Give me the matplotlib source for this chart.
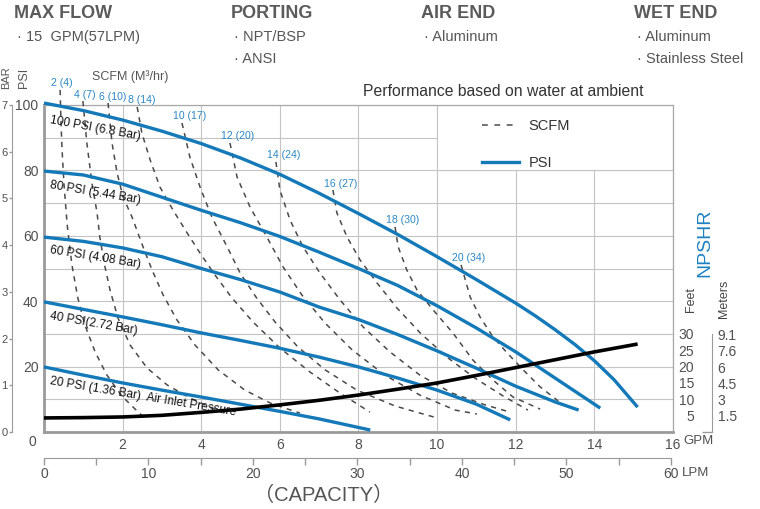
import matplotlib.pyplot as plt
from matplotlib.lines import Line2D
from matplotlib.patches import Rectangle

plt.rcParams['font.family'] = ['Liberation Sans', 'DejaVu Sans']

BLUE = '#1479b8'
LABEL_BLUE = '#2b88c3'
GRAY = '#555555'
AXIS_TXT = '#505050'

# ---- PSI (air inlet pressure) curves: flow in GPM vs head in PSI ----
psi100_gpm = [0, 1, 2, 3, 4, 5, 6, 7, 8, 9, 10, 11, 12, 12.5, 13, 13.5, 14, 14.5, 15.1]
psi100_head = [100.6, 98.3, 95.4, 92.0, 88.2, 83.8, 78.8, 73.0, 66.8, 60.4, 53.6, 46.6,
               39.4, 35.5, 31.3, 26.8, 21.8, 16.0, 7.6]
psi80_gpm = [0, 1, 2, 3, 4, 5, 6, 7, 8, 9, 10, 11, 12, 13, 14.15]
psi80_head = [79.8, 78.6, 75.8, 71.8, 67.8, 64.0, 59.8, 55.0, 50.0, 44.8, 38.6, 31.8,
              24.5, 16.5, 7.3]
psi60_gpm = [0, 1, 2, 3, 4, 5, 6, 7, 8, 9, 10, 11, 12, 13, 13.6]
psi60_head = [59.6, 58.3, 56.3, 53.6, 50.0, 46.6, 42.8, 38.2, 34.4, 29.8, 24.8, 19.5,
              14.0, 9.2, 6.7]
psi40_gpm = [0, 1, 2, 3, 4, 5, 6, 7, 8, 9, 10, 11, 11.86]
psi40_head = [39.8, 37.5, 35.2, 32.8, 30.3, 28.0, 25.6, 22.9, 19.9, 16.5, 12.8, 8.5, 3.7]
psi20_gpm = [0, 1, 2, 3, 4, 5, 6, 7, 8.3]
psi20_head = [19.9, 17.4, 15.0, 12.8, 10.7, 8.5, 6.3, 4.0, 0.6]

psi_labels = ['100 PSI (6.8 Bar)', '80 PSI (5.44 Bar)', '60 PSI (4.08 Bar)',
              '40 PSI(2.72 Bar)', '20 PSI (1.36 Bar)  Air Inlet Pressure']

# ---- air consumption lines, SCFM (m3/hr) ----
scfm = [2, 4, 6, 8, 10, 12, 14, 16, 18, 20]
m3hr = [4, 7, 10, 14, 17, 20, 24, 27, 30, 34]
scfm_gpm = [
    [0.41, 0.43, 0.46, 0.51, 0.59, 0.71, 0.86, 1.04, 1.30, 1.60, 1.98, 2.37, 2.62],
    [0.99, 1.09, 1.22, 1.35, 1.42, 1.53, 1.68, 1.88, 2.19, 2.62, 3.13, 3.71, 4.22, 4.6],
    [1.63, 1.73, 1.86, 2.01, 2.24, 2.52, 2.75, 3.03, 3.38, 3.84, 4.43, 5.11, 5.8, 6.51],
    [2.37, 2.49, 2.70, 2.95, 3.28, 3.64, 3.97, 4.35, 4.78, 5.32, 6.0, 6.77, 7.53, 8.29],
    [3.51, 3.71, 3.97, 4.27, 4.66, 4.99, 5.39, 5.88, 6.46, 7.15, 7.96, 8.93, 10.0],
    [4.73, 4.91, 5.24, 5.67, 6.08, 6.56, 7.15, 7.84, 8.67, 9.56, 10.46, 11.01],
    [5.90, 6.0, 6.26, 6.59, 7.02, 7.53, 8.12, 8.80, 9.56, 10.38, 11.22, 11.85],
    [7.35, 7.45, 7.71, 8.04, 8.47, 8.98, 9.57, 10.25, 10.96, 11.68, 12.31],
    [8.93, 9.01, 9.23, 9.49, 9.90, 10.40, 10.91, 11.42, 11.93, 12.62],
    [10.61, 10.84, 11.09, 11.42, 11.78, 12.19, 12.62, 13.08],
]
scfm_head = [
    [104.6, 95.4, 86.2, 75.5, 63.3, 51.1, 41.0, 32.7, 24.5, 17.4, 11.0, 6.4, 3.7],
    [101.2, 88.4, 76.1, 67.0, 59.6, 51.7, 43.4, 34.9, 26.6, 19.6, 14.4, 10.4, 7.6, 6.1],
    [100.6, 88.4, 79.2, 71.9, 65.7, 56.6, 49.5, 41.9, 34.3, 26.6, 19.0, 12.8, 8.6, 5.8],
    [99.4, 91.4, 83.2, 74.9, 67.9, 60.9, 54.7, 48.0, 41.0, 33.6, 25.7, 18.3, 11.9, 6.1],
    [94.5, 84.1, 74.9, 65.7, 56.6, 48.6, 41.3, 33.6, 26.0, 19.0, 12.8, 7.95, 4.3],
    [88.4, 78.0, 68.8, 59.6, 50.5, 41.9, 33.3, 25.1, 17.4, 11.3, 6.7, 5.5],
    [82.6, 74.0, 64.8, 56.6, 48.6, 40.4, 32.1, 24.5, 17.4, 11.9, 8.3, 6.1],
    [74.0, 67.0, 59.6, 52.6, 45.6, 37.9, 30.3, 22.9, 16.5, 11.0, 6.7],
    [62.7, 56.6, 49.5, 43.4, 37.3, 30.3, 22.0, 15.9, 10.7, 7.0],
    [51.1, 41.3, 35.2, 29.1, 24.2, 19.0, 13.8, 9.5],
]

# ---- NPSHR in feet ----
npshr_gpm = [0, 1, 2, 3, 4, 5, 6, 7, 8, 9, 10, 11, 12, 13, 14, 15.1]
npshr_ft = [4.3, 4.4, 4.6, 5.1, 6.0, 7.0, 8.3, 9.7, 11.3, 13.1, 15.0, 17.3, 19.7, 22.1,
            24.5, 26.9]

gpm_ticks = list(range(0, 17, 2))
lpm_ticks = list(range(0, 61, 10))
psi_ticks = list(range(20, 101, 20))
bar_ticks = list(range(0, 8))
feet_ticks = [5, 10, 15, 20, 25, 30]
meter_ticks = [1.5, 3, 4.5, 6, 7.6, 9.1]
meter_labels = ['1.5', '3', '4.5', '6', '7.6', '9.1']

W, H = 760, 509
fig = plt.figure(figsize=(W / 100, H / 100), dpi=100)


def fx(px):
    return px / W


def fy(py):
    return 1 - py / H


# ---- header block ----
heads = [(14, 'MAX FLOW', ['15  GPM(57LPM)']),
         (231, 'PORTING', ['NPT/BSP', 'ANSI']),
         (421, 'AIR END', ['Aluminum']),
         (634, 'WET END', ['Aluminum', 'Stainless Steel'])]
for x0, title, items in heads:
    fig.text(fx(x0), fy(14), title, fontsize=13, fontweight='bold',
             color='#5b5b5b', va='center', ha='left')
    for i, it in enumerate(items):
        fig.text(fx(x0 + 3), fy(37 + 22 * i), '· ' + it,
                 fontsize=10.5, color=GRAY, va='center', ha='left')

# ---- main plot ----
L, R, T, B = 44, 673, 105, 432
ax = fig.add_axes([fx(L), fy(B), (R - L) / W, (B - T) / H])
ax.set_xlim(0, 16)
ax.set_ylim(0, 100)
ax.set_xticks(gpm_ticks)
ax.set_xticklabels([str(v) if v else '' for v in gpm_ticks])
ax.set_yticks(range(0, 101, 10))
ax.set_yticklabels([str(v) if v in psi_ticks else '' for v in range(0, 101, 10)])
ax.grid(color='#c4c4c4', lw=0.8)
ax.set_axisbelow(True)
ax.tick_params(length=0, labelsize=10, colors=AXIS_TXT, pad=4)
for s in ['left', 'bottom']:
    ax.spines[s].set_color('#9a9a9a')
    ax.spines[s].set_linewidth(2.0)
for s in ['top', 'right']:
    ax.spines[s].set_color('#a8a8a8')
    ax.spines[s].set_linewidth(0.9)
# shared origin label
ax.annotate('0', xy=(0, 0), xycoords='axes fraction', xytext=(-12, -10),
            textcoords='offset pixels', ha='center', va='center', fontsize=10,
            color=AXIS_TXT)

# legend area
ax.add_patch(Rectangle((10, 80), 6, 20, facecolor='white', edgecolor='#c4c4c4',
                       lw=0.8, zorder=1))

# blue pressure curves
psi_curves = [(psi100_gpm, psi100_head), (psi80_gpm, psi80_head), (psi60_gpm, psi60_head),
              (psi40_gpm, psi40_head), (psi20_gpm, psi20_head)]
for gx, hy in psi_curves:
    ax.plot(gx, hy, color=BLUE, lw=2.4, solid_capstyle='butt', solid_joinstyle='round',
            zorder=4, clip_on=False)

# curve names
label_pos = [(0.15, 95.4, -10.4), (0.15, 75.6, -9.6), (0.15, 55.5, -9.1),
             (0.15, 35.6, -9.8), (0.15, 15.7, -9.6)]
for (x, y, rot), txt in zip(label_pos, psi_labels):
    ax.text(x, y, txt, rotation=rot, rotation_mode='anchor', ha='left', va='center',
            fontsize=8.6, color='#111111', zorder=6)

# dashed SCFM lines and their labels
for s, m, gx, hy in zip(scfm, m3hr, scfm_gpm, scfm_head):
    ln, = ax.plot(gx, hy, color='#4a4a4a', lw=1.1, zorder=3, clip_on=False)
    ln.set_dashes((3.4, 3.4))
    ax.annotate(f'{s} ({m})', xy=(gx[0], hy[0]), xytext=(-9, 1.5),
                textcoords='offset pixels', ha='left', va='bottom',
                fontsize=7.6, color=LABEL_BLUE, zorder=6, annotation_clip=False)

# NPSHR curve
ax.plot(npshr_gpm, npshr_ft, color='black', lw=2.6, zorder=5, solid_capstyle='butt')

# legend
handles = [Line2D([], [], color='#4a4a4a', lw=1.1, dashes=(3.8, 4.3)),
           Line2D([], [], color=BLUE, lw=2.4)]
ax.legend(handles, ['SCFM', 'PSI'], loc='upper left', bbox_to_anchor=(0.697, 0.957),
          frameon=False, handlelength=2.5, handletextpad=0.65, labelspacing=1.6,
          borderaxespad=0, borderpad=0, prop={'size': 10.5}, labelcolor='#333333')

ax.annotate('GPM', xy=(1, 0), xycoords='axes fraction', xytext=(10, -9),
            textcoords='offset pixels', ha='left', va='center', fontsize=9.5,
            color=AXIS_TXT)

fig.text(fx(363), fy(92), 'Performance based on water at ambient',
         fontsize=11.3, color='#333333', va='center')
fig.text(fx(92), fy(77), 'SCFM (M³/hr)', fontsize=9, color=GRAY, va='center')
fig.text(fx(24), fy(78), 'PSI', rotation=90, fontsize=9, color=GRAY, ha='center', va='center')
fig.text(fx(6), fy(78), 'BAR', rotation=90, fontsize=8, color=GRAY, ha='center', va='center')

# ---- BAR scale on the far left ----
ax_bar = ax.twinx()
ax_bar.set_ylim(0, 7)
ax_bar.yaxis.set_ticks_position('left')
ax_bar.spines['left'].set_position(('outward', 32 * 0.72))
ax_bar.spines['left'].set_bounds(0, 7)
ax_bar.spines['left'].set_color('#9a9a9a')
for s in ['right', 'top', 'bottom']:
    ax_bar.spines[s].set_visible(False)
ax_bar.set_yticks(bar_ticks)
ax_bar.tick_params(axis='y', length=2.5, width=1, color='#9a9a9a', labelsize=8,
                   labelcolor=AXIS_TXT, pad=0.5)

# ---- NPSHR scales on the right (feet share the PSI scale) ----
ax_ft = ax.twinx()
ax_ft.set_ylim(0, 100)
ax_ft.set_yticks(feet_ticks)
ax_ft.tick_params(axis='y', length=0, pad=21 * 0.72, labelsize=10, labelcolor=AXIS_TXT)
for lab in ax_ft.get_yticklabels():
    lab.set_horizontalalignment('right')
for s in ax_ft.spines.values():
    s.set_visible(False)

ax_m = ax.twinx()
ax_m.set_ylim(0, 100 * 0.3048)
ax_m.spines['right'].set_position(('outward', (712 - R) * 0.72))
ax_m.spines['right'].set_bounds(0, 9.1)
ax_m.spines['right'].set_color('#9a9a9a')
for s in ['left', 'top', 'bottom']:
    ax_m.spines[s].set_visible(False)
ax_m.set_yticks(meter_ticks)
ax_m.set_yticklabels(meter_labels)
ax_m.set_yticks([0, 3, 6, 9.1], minor=True)
ax_m.tick_params(axis='y', which='major', length=0, pad=4, labelsize=10, labelcolor=AXIS_TXT)
ax_m.tick_params(axis='y', which='minor', length=7, width=1, direction='in', color='#9a9a9a')

fig.text(fx(691), fy(300), 'Feet', rotation=90, fontsize=9, color='#444444',
         ha='center', va='center')
fig.text(fx(724), fy(299), 'Meters', rotation=90, fontsize=9, color='#444444',
         ha='center', va='center')
fig.text(fx(705), fy(243), 'NPSHR', rotation=90, fontsize=14, color='#1e82c0',
         ha='center', va='center')

# ---- LPM scale under the GPM axis ----
ax_l = fig.add_axes([fx(L), fy(458), (671 - L) / W, 0.0005])
ax_l.set_xlim(0, 60)
ax_l.set_xticks(lpm_ticks)
ax_l.set_xticks(range(0, 61, 5), minor=True)
ax_l.set_yticks([])
for s in ['left', 'right', 'top']:
    ax_l.spines[s].set_visible(False)
ax_l.spines['bottom'].set_color('#9a9a9a')
ax_l.tick_params(axis='x', which='both', length=5, width=1, color='#9a9a9a',
                 labelsize=10, labelcolor=AXIS_TXT, pad=1.5)
ax_l.annotate('LPM', xy=(1, 0), xycoords='axes fraction', xytext=(11, -15),
              textcoords='offset pixels', ha='left', va='center', fontsize=9.5,
              color=AXIS_TXT)

fig.text(fx(324), fy(495), '（CAPACITY）', fontsize=14.5, color='#555555',
         ha='center', va='center', family=['Liberation Sans', 'Noto Sans CJK SC'])

fig.savefig('out.png', dpi=100)
